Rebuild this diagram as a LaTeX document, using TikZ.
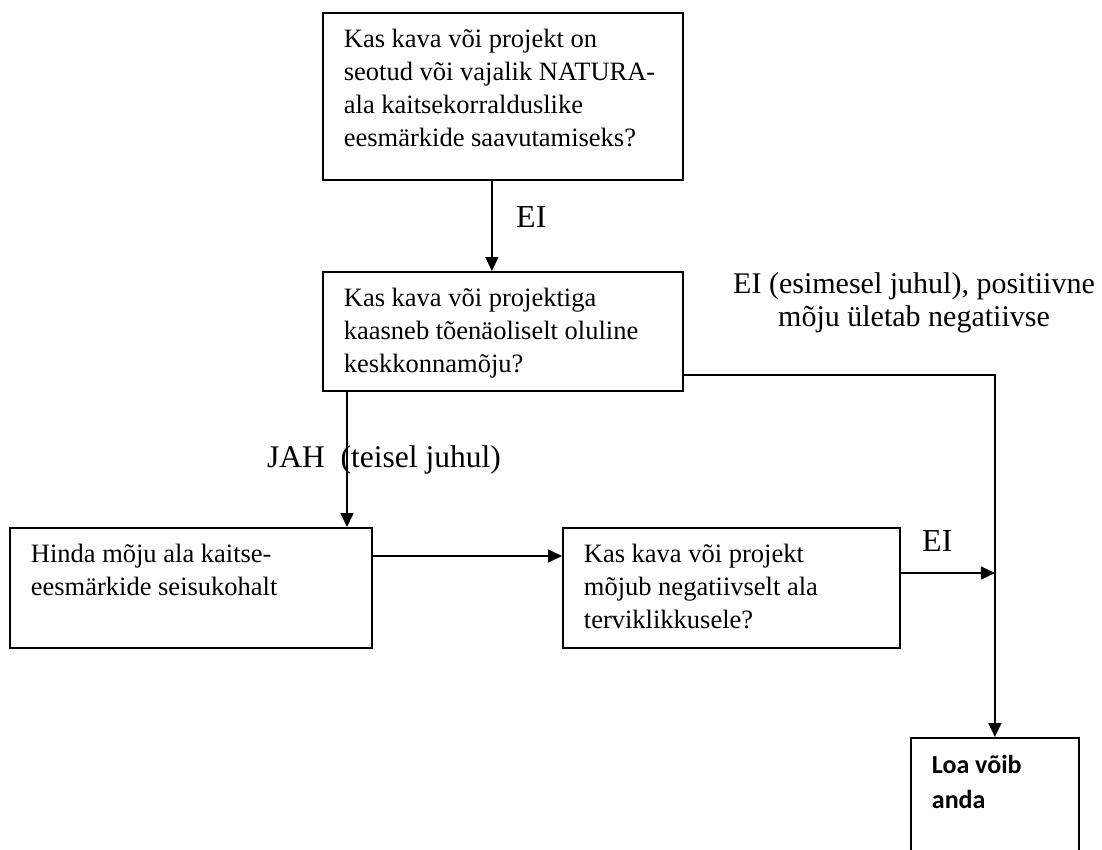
\documentclass[tikz,border=0pt]{standalone}
\usepackage{fontspec}
\setmainfont{Liberation Serif}
\newfontfamily\calibri{Carlito}
\usetikzlibrary{arrows.meta,calc}
\newcommand{\boxcontent}[3]{\parbox[c][#2][t]{#1}{\raggedright\leftskip=21pt\fontsize{26.5}{33}\selectfont\rule{0pt}{35pt}#3}}
\tikzset{
  box/.style={draw, line width=1.8pt, inner sep=0pt, anchor=north west},
  arr/.style={line width=1.6pt, -{Triangle[length=14pt,width=13pt]}},
  lbl/.style={font=\fontsize{30}{33}\selectfont, inner sep=0pt, anchor=base west},
}
\begin{document}
\begin{tikzpicture}[x=1pt,y=-1pt]
\useasboundingbox[fill=white] (0,0) rectangle (1102,849);
\clip (0,0) rectangle (1102,849);
\node[box] (b1) at (322,12) {\boxcontent{360pt}{167pt}{Kas kava või projekt on\\seotud või vajalik NATURA-\\ala kaitsekorralduslike\\eesmärkide saavutamiseks?}};
\node[box] (b2) at (322,271) {\boxcontent{360pt}{119pt}{Kas kava või projektiga\\kaasneb tõenäoliselt oluline\\keskkonnamõju?}};
\node[box] (b3) at (9,527) {\boxcontent{362pt}{120pt}{Hinda mõju ala kaitse-\\eesmärkide seisukohalt}};
\node[box] (b4) at (562,527) {\boxcontent{337pt}{120pt}{Kas kava või projekt\\mõjub negatiivselt ala\\terviklikkusele?}};
\node[box] (b5) at (910,737) {\parbox[c][130pt][t]{168pt}{\raggedright\leftskip=21pt\calibri\bfseries\fontsize{26}{35}\selectfont\rule{0pt}{36pt}Loa võib\\anda}};
% connectors
\coordinate (p1) at ($(b1.south)+(-11,0)$);
\draw[arr] (p1) -- (p1 |- b2.north);
\node[lbl, font=\fontsize{32}{33}\selectfont] (l1) at (516,227) {EI};
\coordinate (p2) at ($(b2.south west)+(25,0)$);
\draw[arr] (p2) -- (p2 |- b3.north);
\node[lbl, font=\fontsize{31.5}{33}\selectfont] (l2) at (267,467) {JAH~~(teisel juhul)};
\coordinate (p3) at ($(b3.north east)+(0,29)$);
\draw[arr] (p3) -- (p3 -| b4.west);
\coordinate (p4) at ($(b2.north east)+(0,104)$);
\coordinate (p5) at (p4 -| b5.north);
\draw[arr] (p4) -- (p5) -- (b5.north);
\coordinate (p6) at ($(b4.north east)+(0,46)$);
\draw[arr] (p6) -- (p6 -| b5.north);
\node[lbl, font=\fontsize{32}{33}\selectfont] (l3) at (922,551) {EI};
\node[lbl, anchor=base] (l4) at (914,293) {\parbox[t]{380pt}{\centering EI (esimesel juhul), positiivne\\mõju ületab negatiivse}};
\end{tikzpicture}
\end{document}
